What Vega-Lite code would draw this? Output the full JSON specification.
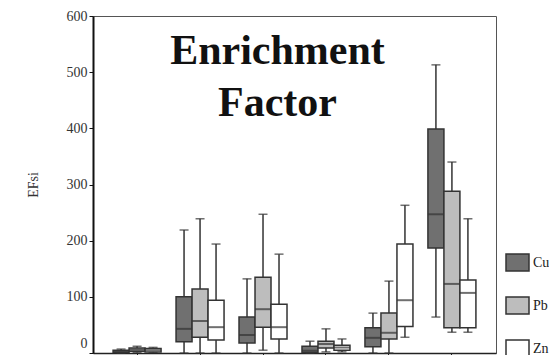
{
  "$schema": "https://vega.github.io/schema/vega-lite/v6.json",
  "width": 403,
  "height": 337,
  "autosize": {"type": "none"},
  "padding": {"left": 93, "top": 16, "right": 53, "bottom": 2},
  "background": "white",
  "title": {
    "text": ["Enrichment", "Factor"],
    "anchor": "middle",
    "frame": "group",
    "font": "Liberation Serif",
    "fontSize": 42,
    "fontWeight": "bold",
    "color": "#111111",
    "lineHeight": 52,
    "baseline": "top",
    "offset": 0,
    "dx": -17,
    "dy": 116
  },
  "config": {
    "font": "Liberation Serif",
    "view": {"stroke": "#555555", "strokeWidth": 1}
  },
  "data": {
    "values": [
      {"group": "1", "metal": "Cu", "min": 0, "q1": 1, "median": 3, "q3": 5, "max": 7},
      {"group": "1", "metal": "Pb", "min": 1, "q1": 3, "median": 6, "q3": 9, "max": 12},
      {"group": "1", "metal": "Zn", "min": 1, "q1": 2, "median": 5, "q3": 8, "max": 10},
      {"group": "2", "metal": "Cu", "min": 0, "q1": 20, "median": 43, "q3": 100, "max": 219},
      {"group": "2", "metal": "Pb", "min": 0, "q1": 28, "median": 57, "q3": 114, "max": 239},
      {"group": "2", "metal": "Zn", "min": 0, "q1": 23, "median": 46, "q3": 94, "max": 194},
      {"group": "3", "metal": "Cu", "min": 0, "q1": 18, "median": 32, "q3": 64, "max": 132},
      {"group": "3", "metal": "Pb", "min": 5, "q1": 46, "median": 78, "q3": 135, "max": 247},
      {"group": "3", "metal": "Zn", "min": 0, "q1": 25, "median": 46, "q3": 87, "max": 176},
      {"group": "4", "metal": "Cu", "min": 0, "q1": 1, "median": 4, "q3": 12, "max": 21},
      {"group": "4", "metal": "Pb", "min": 2, "q1": 9, "median": 16, "q3": 21, "max": 43},
      {"group": "4", "metal": "Zn", "min": 2, "q1": 5, "median": 10, "q3": 14, "max": 25},
      {"group": "5", "metal": "Cu", "min": 0, "q1": 11, "median": 27, "q3": 45, "max": 71},
      {"group": "5", "metal": "Pb", "min": 0, "q1": 25, "median": 36, "q3": 71, "max": 128},
      {"group": "5", "metal": "Zn", "min": 28, "q1": 47, "median": 94, "q3": 194, "max": 263},
      {"group": "6", "metal": "Cu", "min": 64, "q1": 187, "median": 247, "q3": 399, "max": 513},
      {"group": "6", "metal": "Pb", "min": 37, "q1": 45, "median": 123, "q3": 288, "max": 340},
      {"group": "6", "metal": "Zn", "min": 37, "q1": 45, "median": 107, "q3": 130, "max": 239}
    ]
  },
  "encoding": {
    "x": {
      "field": "group",
      "type": "nominal",
      "scale": {"paddingInner": 0, "paddingOuter": 0.2},
      "axis": {
        "labels": false,
        "title": null,
        "ticks": true,
        "tickSize": 4,
        "tickColor": "#222222",
        "domainColor": "#222222",
        "domainWidth": 1.5
      }
    },
    "xOffset": {
      "field": "metal",
      "type": "nominal",
      "scale": {"paddingInner": 0, "paddingOuter": 0.468}
    }
  },
  "layer": [
    {
      "mark": {"type": "rule", "color": "#333333", "strokeWidth": 1.5},
      "encoding": {
        "y": {
          "field": "min",
          "type": "quantitative",
          "scale": {"domain": [0, 600], "nice": false},
          "axis": {
            "values": [0, 100, 200, 300, 400, 500, 600],
            "grid": false,
            "title": "EFsi",
            "titleFont": "Liberation Serif",
            "titleFontSize": 14,
            "titleFontWeight": "normal",
            "titleColor": "#333333",
            "titlePadding": 26,
            "labelFont": "Liberation Serif",
            "labelFontSize": 14,
            "labelColor": "#333333",
            "labelPadding": 2,
            "labelOffset": {"condition": {"test": "datum.value === 0", "value": -10}, "value": 0},
            "tickSize": 4,
            "tickColor": "#111111",
            "domainColor": "#111111",
            "domainWidth": 2
          }
        },
        "y2": {"field": "max"}
      }
    },
    {
      "mark": {"type": "tick", "color": "#333333", "size": 9, "thickness": 1.5},
      "encoding": {"y": {"field": "max", "type": "quantitative"}}
    },
    {
      "mark": {"type": "tick", "color": "#333333", "size": 9, "thickness": 1.5},
      "encoding": {"y": {"field": "min", "type": "quantitative"}}
    },
    {
      "mark": {"type": "bar", "stroke": "#333333", "strokeWidth": 1.5},
      "encoding": {
        "y": {"field": "q1", "type": "quantitative"},
        "y2": {"field": "q3"},
        "fill": {
          "field": "metal",
          "type": "nominal",
          "scale": {"domain": ["Cu", "Pb", "Zn"], "range": ["#707070", "#bdbdbd", "#ffffff"]},
          "legend": {
            "orient": "none",
            "legendX": 412,
            "legendY": 234,
            "title": null,
            "padding": 0,
            "symbolType": "M-1,-0.74H1V0.74H-1Z",
            "symbolSize": 529,
            "symbolStrokeColor": "#333333",
            "symbolStrokeWidth": 1.5,
            "symbolOpacity": 1,
            "rowPadding": 18,
            "labelFont": "Liberation Serif",
            "labelFontSize": 14,
            "labelColor": "#222222",
            "labelOffset": 3
          }
        }
      }
    },
    {
      "mark": {"type": "tick", "color": "#333333", "size": 16, "thickness": 2},
      "encoding": {"y": {"field": "median", "type": "quantitative"}}
    }
  ]
}
